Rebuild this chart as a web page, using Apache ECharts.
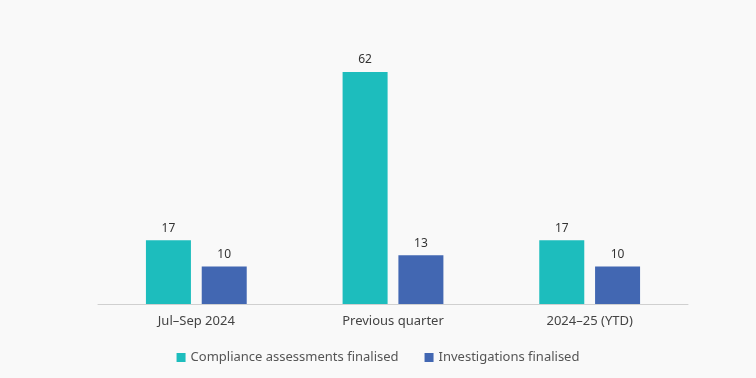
<!DOCTYPE html>
<html>
<head>
<meta charset="utf-8">
<script src="https://cdn.jsdelivr.net/npm/echarts@6/dist/echarts.min.js"></script>
<style>
html, body { margin: 0; padding: 0; background: #f9f9f9; }
#chart { width: 756px; height: 378px; }
</style>
</head>
<body>
<div id="chart"></div>
<script>
var categories = ['Jul\u2013Sep 2024', 'Previous quarter', '2024\u201325 (YTD)'];
var complianceValues = [17, 62, 17];
var investigationValues = [10, 13, 10];

var myChart = echarts.init(document.getElementById('chart'));
var labelStyle = { show: true, position: 'top', color: '#333', fontSize: 12, fontFamily: 'Noto Sans', distance: 6 };
myChart.setOption({
	backgroundColor: '#f9f9f9',
	grid: { left: 98, right: 68, top: 42, bottom: 74 },
	legend: {
		bottom: 9,
		itemWidth: 9, itemHeight: 9, itemGap: 26,
		icon: 'rect',
		textStyle: { color: '#555', fontSize: 13, fontFamily: 'Noto Sans' },
		data: ['Compliance assessments finalised', 'Investigations finalised']
	},
	xAxis: {
		type: 'category',
		data: categories,
		axisLine: { lineStyle: { color: '#d0d0d0' } },
		axisTick: { show: false },
		axisLabel: { color: '#444', fontSize: 13, fontFamily: 'Noto Sans', margin: 11 }
	},
	yAxis: { type: 'value', min: 0, max: 70, show: false, splitLine: { show: false } },
	series: [{
		name: 'Compliance assessments finalised',
		type: 'bar',
		data: complianceValues,
		barWidth: 45,
		barGap: '24%',
		itemStyle: { color: '#1dbdbd' },
		label: labelStyle
	}, {
		name: 'Investigations finalised',
		type: 'bar',
		data: investigationValues,
		barWidth: 45,
		itemStyle: { color: '#4267b2' },
		label: labelStyle
	}]
});
</script>
</body>
</html>
